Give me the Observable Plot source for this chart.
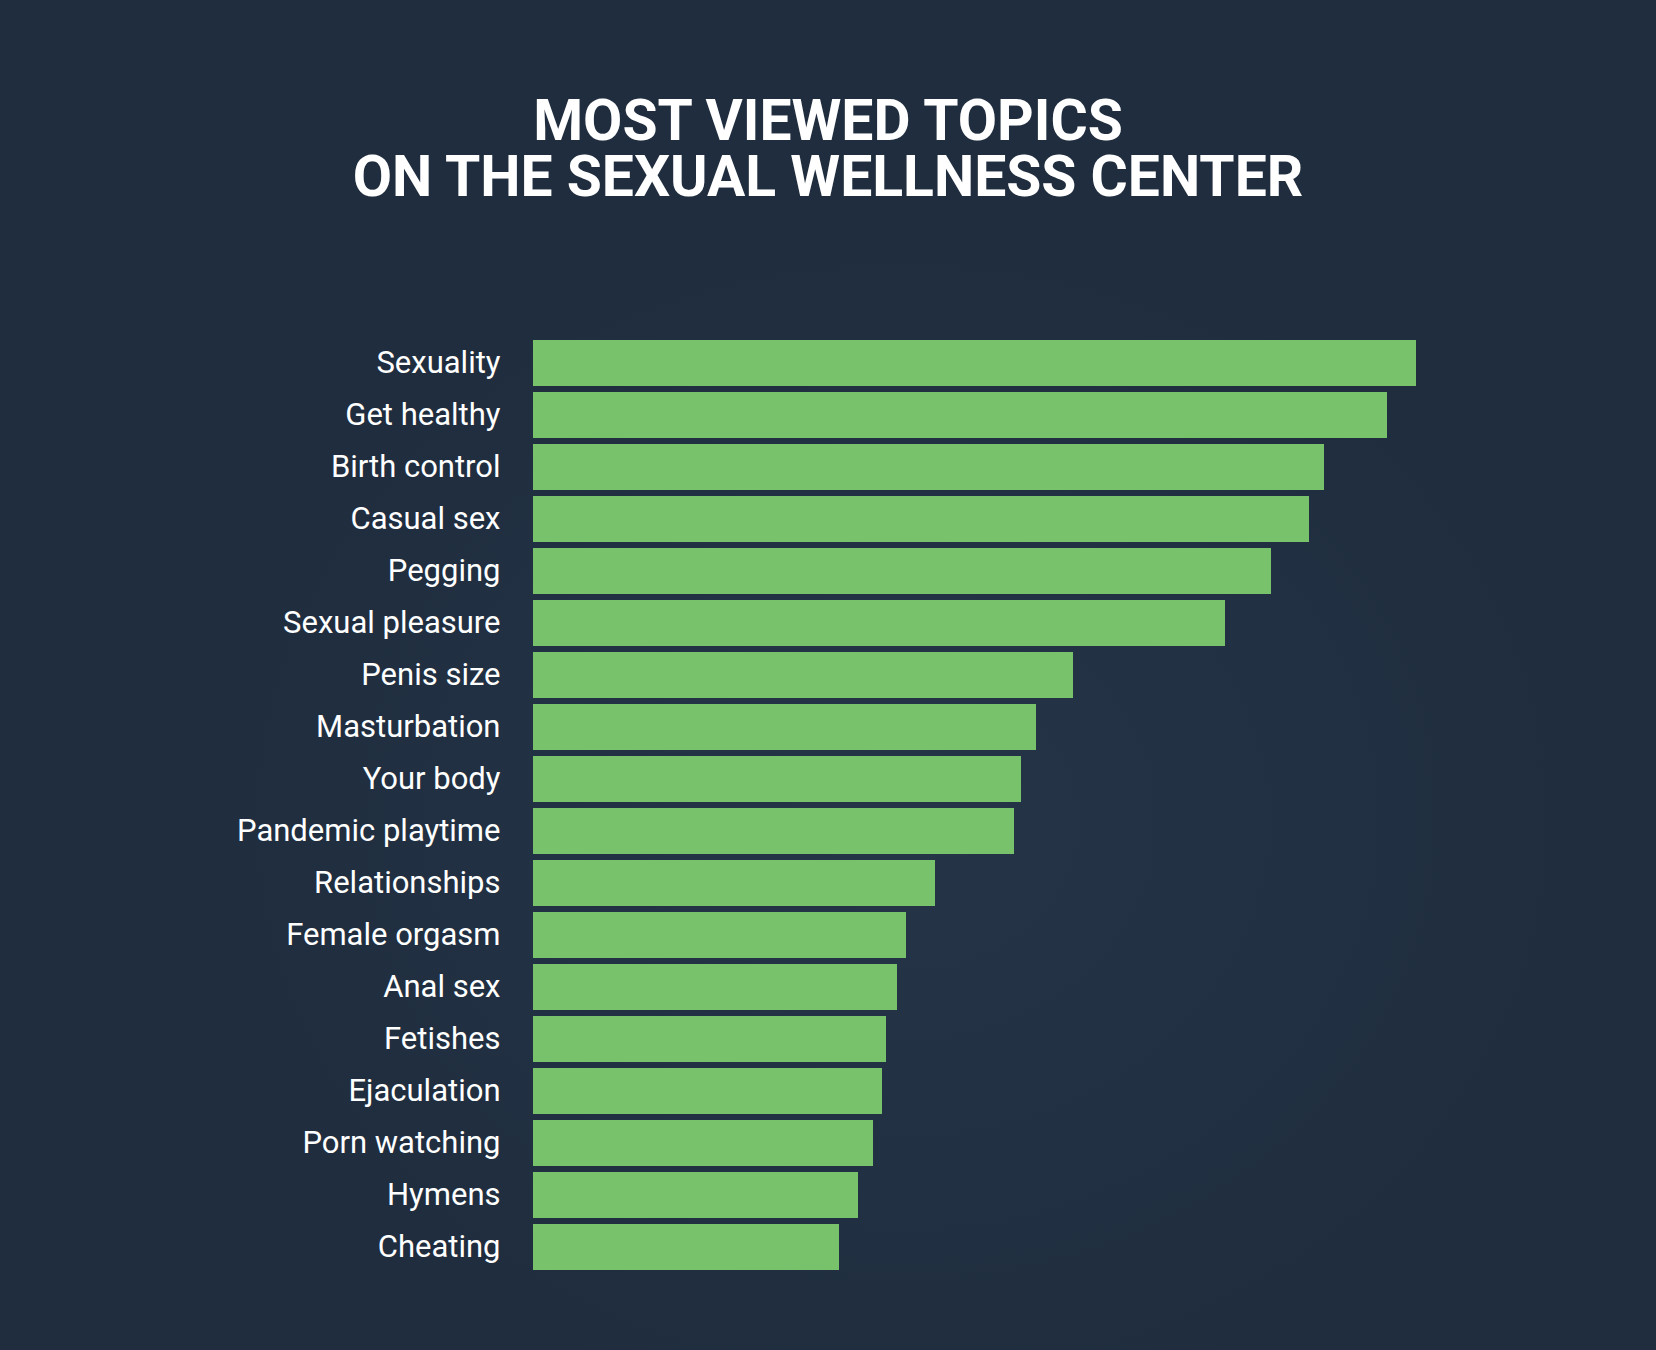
<!DOCTYPE html>
<html>
<head>
<meta charset="utf-8">
<script src="https://cdn.jsdelivr.net/npm/d3@7"></script>
<script src="https://cdn.jsdelivr.net/npm/@observablehq/plot@0.6"></script>
<style>
  html, body { margin: 0; padding: 0; }
  body {
    width: 1656px; height: 1350px; overflow: hidden;
    background: radial-gradient(ellipse 700px 600px at 900px 820px, #253447 0%, #223144 45%, #1f2d3e 100%);
    font-family: Roboto, "Noto Sans", sans-serif;
  }
  #title {
    box-sizing: border-box;
    height: 250px;
    padding-top: 93px;
    text-align: center;
    color: #ffffff;
    font-family: Roboto, sans-serif;
    font-weight: 700;
    font-size: 57px;
  }
  #title div { line-height: 56px; height: 56px; }
  #chart svg { display: block; background: transparent; }
</style>
</head>
<body>
<div id="title"><div>MOST VIEWED TOPICS</div><div>ON THE SEXUAL WELLNESS CENTER</div></div>
<div id="chart"></div>
<script>
const topics = [
  "Sexuality", "Get healthy", "Birth control", "Casual sex", "Pegging",
  "Sexual pleasure", "Penis size", "Masturbation", "Your body",
  "Pandemic playtime", "Relationships", "Female orgasm", "Anal sex",
  "Fetishes", "Ejaculation", "Porn watching", "Hymens", "Cheating"
];
const views = [
  883, 854, 791, 776, 738,
  692, 540, 503, 488,
  481, 402, 373, 364,
  353, 349, 340, 325, 306
];
const data = topics.map((t, i) => ({topic: t, value: views[i]}));

const chart = Plot.plot({
  width: 1656,
  height: 1100,
  marginTop: 87,
  marginBottom: 77,
  marginLeft: 533,
  marginRight: 240,
  style: {background: "transparent", fontFamily: "Roboto, sans-serif", fontSize: "31px", color: "#ffffff"},
  x: {domain: [0, 883], axis: null},
  y: {domain: topics, padding: 0, label: null, axis: null},
  marks: [
    Plot.barX(data, {x: "value", y: "topic", fill: "#78c26c", insetTop: 3, insetBottom: 3}),
    Plot.axisY({tickSize: 0, tickPadding: 33, fontSize: 31, fill: "#ffffff", label: null})
  ]
});
document.getElementById("chart").appendChild(chart);
</script>
</body>
</html>
